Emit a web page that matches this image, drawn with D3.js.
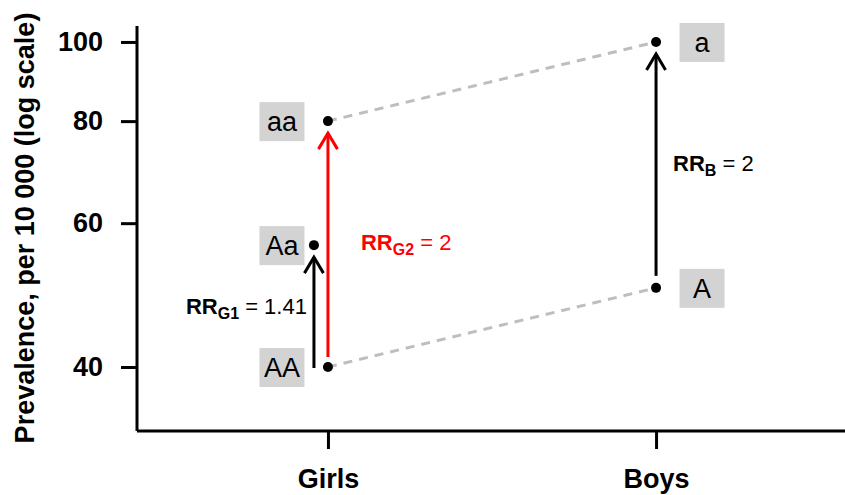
<!DOCTYPE html>
<html>
<head>
<meta charset="utf-8">
<script src="https://cdn.jsdelivr.net/npm/d3@7"></script>
<style>
  body { margin: 0; background: #fff; }
  text { font-family: "Liberation Sans", Arial, sans-serif; }
</style>
</head>
<body>
<script>
// groups on the x axis
const groups = ["Girls", "Boys"];
// genotype points (prevalence per 10 000)
const pointLabels = ["AA", "Aa", "aa", "A", "a"];
const pointGroups = ["Girls", "Girls", "Girls", "Boys", "Boys"];
const pointValues = [40, 56.4, 80, 50, 100];
// y tick values
const yTicks = [40, 60, 80, 100];
// dashed links between girls and boys
const links = [["aa", "a"], ["AA", "A"]];
// arrows: from, to, sub, value, colour
const arrowFrom = ["AA", "AA", "A"];
const arrowTo = ["Aa", "aa", "a"];
const arrowSub = ["G1", "G2", "B"];
const arrowRR = ["1.41", "2", "2"];
const arrowCol = ["#000", "#ff0000", "#000"];

const width = 845, height = 495;
const margin = {top: 26, right: 0, bottom: 64, left: 137};

const svg = d3.select("body").append("svg")
  .attr("width", width).attr("height", height);

const x = d3.scalePoint()
  .domain(groups)
  .range([margin.left, width + 2])
  .padding(0.582);

const y = d3.scaleLog()
  .domain([33.4, 104.6])
  .range([height - margin.bottom, margin.top]);

const pts = pointLabels.map(function(l, i) {
  // the middle girls point is nudged left so the arrows don't overlap
  let dx = (l === "Aa") ? -14 : 0;
  return {label: l, group: pointGroups[i], value: pointValues[i],
          px: x(pointGroups[i]) + dx, py: y(pointValues[i])};
});
const byLabel = {};
pts.forEach(function(p) { byLabel[p.label] = p; });

// axes
const yAxis = svg.append("g")
  .attr("transform", "translate(" + margin.left + ",0)")
  .call(d3.axisLeft(y).tickValues(yTicks).tickFormat(d3.format("d")).tickSize(16).tickPadding(18));
yAxis.select(".domain").attr("d", "M0," + margin.top + "V" + (height - margin.bottom));

const xAxis = svg.append("g")
  .attr("transform", "translate(0," + (height - margin.bottom) + ")")
  .call(d3.axisBottom(x).tickSize(18).tickPadding(20));
xAxis.select(".domain").attr("d", "M" + margin.left + ",0H" + width);

svg.selectAll(".domain, .tick line").attr("stroke", "#000").attr("stroke-width", 3);
svg.selectAll(".tick text")
  .attr("fill", "#000")
  .style("font-size", "27px")
  .style("font-weight", "bold");

// axis title
svg.append("text")
  .attr("transform", "translate(34,228) rotate(-90)")
  .attr("text-anchor", "middle")
  .style("font-size", "27px")
  .style("font-weight", "bold")
  .text("Prevalence, per 10 000 (log scale)");

// dashed links
links.forEach(function(lk) {
  let a = byLabel[lk[0]], b = byLabel[lk[1]];
  svg.append("line")
    .attr("x1", a.px).attr("y1", a.py)
    .attr("x2", b.px).attr("y2", b.py)
    .attr("stroke", "#bebebe")
    .attr("stroke-width", 3)
    .attr("stroke-dasharray", "9,7");
});

// arrows
function arrow(x0, y0, y1, col) {
  svg.append("line")
    .attr("x1", x0).attr("y1", y0).attr("x2", x0).attr("y2", y1)
    .attr("stroke", col).attr("stroke-width", 3);
  svg.append("path")
    .attr("d", "M" + (x0 - 9.5) + "," + (y1 + 16) + "L" + x0 + "," + y1 + "L" + (x0 + 9.5) + "," + (y1 + 16))
    .attr("fill", "none").attr("stroke", col).attr("stroke-width", 3);
}

arrowFrom.forEach(function(f, i) {
  let a = byLabel[f], b = byLabel[arrowTo[i]];
  let ax = (i === 0) ? b.px : a.px;
  let startGap = (i === 0) ? -1 : (i === 1 ? 10 : 12);
  arrow(ax, a.py - startGap, b.py + 12, arrowCol[i]);
});

// RR labels
function rrLabel(tx, ty, anchor, sub, val, col) {
  let t = svg.append("text")
    .attr("x", tx).attr("y", ty)
    .attr("text-anchor", anchor)
    .attr("fill", col)
    .style("font-size", "22px");
  t.append("tspan").style("font-weight", "bold").text("RR");
  t.append("tspan").style("font-weight", "bold").style("font-size", "16px").attr("dy", 5).text(sub);
  t.append("tspan").attr("dy", -5).text(" = " + val);
}
let g1 = byLabel["Aa"], ga = byLabel["AA"];
rrLabel(g1.px - 7, (g1.py + ga.py) / 2 + 8, "end", arrowSub[0], arrowRR[0], arrowCol[0]);
rrLabel(x("Girls") + 33, y(56.4) + 5, "start", arrowSub[1], arrowRR[1], arrowCol[1]);
rrLabel(x("Boys") + 17, (byLabel["A"].py + byLabel["a"].py) / 2 + 6, "start", arrowSub[2], arrowRR[2], arrowCol[2]);

// label boxes
pts.forEach(function(p) {
  let cx = x(p.group) + (p.group === "Girls" ? -46 : 46);
  svg.append("rect")
    .attr("x", cx - 22.5).attr("y", p.py - 19)
    .attr("width", 45).attr("height", 39)
    .attr("fill", "#d3d3d3");
  svg.append("text")
    .attr("x", cx).attr("y", p.py + 10)
    .attr("text-anchor", "middle")
    .style("font-size", "27px")
    .text(p.label);
});

// points
svg.selectAll("circle.pt")
  .data(pts)
  .join("circle")
  .attr("class", "pt")
  .attr("cx", function(d) { return d.px; })
  .attr("cy", function(d) { return d.py; })
  .attr("r", 5)
  .attr("fill", "#000");
</script>
</body>
</html>
